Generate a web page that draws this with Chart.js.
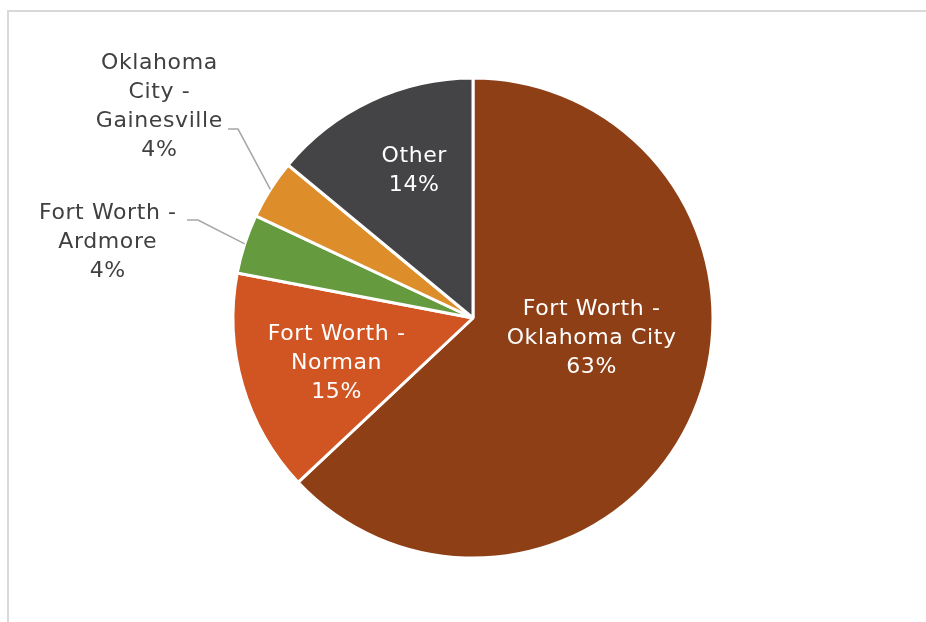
<!DOCTYPE html>
<html>
<head>
<meta charset="utf-8">
<script src="https://cdn.jsdelivr.net/npm/chart.js@4/dist/chart.umd.min.js"></script>
<style>
  html, body { margin: 0; padding: 0; background: #fff; }
  #wrap { position: relative; width: 926px; height: 622px; overflow: hidden; }
  #frame { position: absolute; left: 7px; top: 10px; width: 960px; height: 660px; border: 2px solid #d9d9d9; }
  canvas { position: absolute; left: 0; top: 0; }
</style>
</head>
<body>
<div id="wrap">
  <div id="frame"></div>
  <canvas id="routeChart" width="926" height="622"></canvas>
</div>
<script>
// Route names, split over lines as they appear in the labels
const routes = [
    ['Fort Worth -', 'Oklahoma City'],
    ['Fort Worth -', 'Norman'],
    ['Fort Worth -', 'Ardmore'],
    ['Oklahoma', 'City -', 'Gainesville'],
    ['Other']
];
// Share of traffic per route (%)
const shares = [63, 15, 4, 4, 14];
const sliceColors = ['#8f3f16', '#d05522', '#669a3f', '#dd8e2a', '#444446'];

// Where each label sits, in multiples of the pie radius
// inside: r = distance from centre, turn = degrees off the slice middle
// outside: tx/ty = text centre, kx/ky = elbow of the leader line
const labelPlacement = [
    { r: 0.50, turn: -13.7 },
    { r: 0.60, turn: -2.1 },
    { outside: true, tx: -1.523, ty: -0.317, kx: -1.146, ky: -0.408, tail: 11 },
    { outside: true, tx: -1.308, ty: -0.879, kx: -0.979, ky: -0.787, tail: 10 },
    { r: 0.66, turn: 3.3 }
];

const lineH = 29;

// Draws the route name + percentage for every slice
const sliceLabels = {
    id: 'sliceLabels',
    afterDatasetsDraw(chart) {
        const ctx = chart.ctx;
        const meta = chart.getDatasetMeta(0);
        const total = shares.reduce((a, b) => a + b, 0);
        ctx.save();
        ctx.font = '22px "DejaVu Sans"';
        ctx.letterSpacing = '0.6px';
        ctx.textAlign = 'center';
        ctx.textBaseline = 'middle';
        meta.data.forEach((arc, i) => {
            const p = labelPlacement[i];
            const { x, y, startAngle, endAngle, outerRadius } =
                arc.getProps(['x', 'y', 'startAngle', 'endAngle', 'outerRadius'], true);
            const mid = (startAngle + endAngle) / 2;
            const lines = [...routes[i], Math.round(shares[i] / total * 100) + '%'];
            let cx, cy;
            if (p.outside) {
                cx = x + p.tx * outerRadius;
                cy = y + p.ty * outerRadius;
                const ex = x + Math.cos(mid) * outerRadius;
                const ey = y + Math.sin(mid) * outerRadius;
                const kx = x + p.kx * outerRadius;
                const ky = y + p.ky * outerRadius;
                ctx.strokeStyle = '#a6a6a6';
                ctx.lineWidth = 1.5;
                ctx.beginPath();
                ctx.moveTo(ex, ey);
                ctx.lineTo(kx, ky);
                ctx.lineTo(kx - p.tail, ky);
                ctx.stroke();
                ctx.fillStyle = '#404040';
            } else {
                const a = mid + p.turn * Math.PI / 180;
                cx = x + Math.cos(a) * p.r * outerRadius;
                cy = y + Math.sin(a) * p.r * outerRadius;
                ctx.fillStyle = '#ffffff';
            }
            lines.forEach((t, j) => {
                ctx.fillText(t, cx + 0.3, cy + (j - (lines.length - 1) / 2) * lineH);
            });
        });
        ctx.restore();
    }
};

const ctxRoutes = document.getElementById('routeChart').getContext('2d');
new Chart(ctxRoutes, {
    type: 'pie',
    data: {
        labels: routes.map(r => r.join(' ')),
        datasets: [{
            data: shares,
            backgroundColor: sliceColors,
            borderColor: '#ffffff',
            borderWidth: 3
        }]
    },
    options: {
        responsive: false,
        animation: false,
        layout: { padding: { left: 20, right: 0, top: 76.5, bottom: 62.5 } },
        plugins: {
            legend: { display: false },
            tooltip: { enabled: false }
        }
    },
    plugins: [sliceLabels]
});
</script>
</body>
</html>
